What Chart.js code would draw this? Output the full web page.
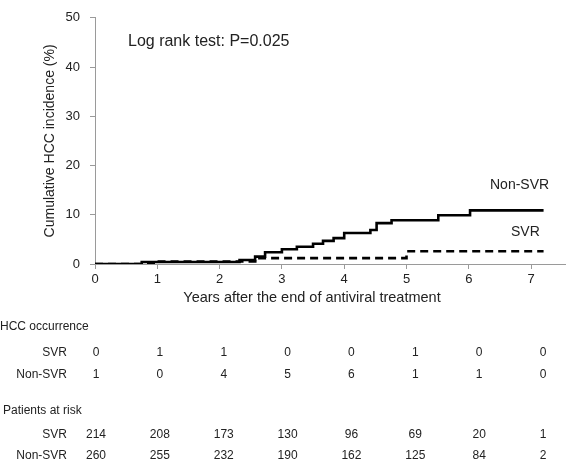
<!DOCTYPE html>
<html>
<head>
<meta charset="utf-8">
<script src="https://cdn.jsdelivr.net/npm/chart.js@4"></script>
<style>
  html, body { margin: 0; padding: 0; background: #fff; }
  #wrap { width: 566px; height: 462px; }
</style>
</head>
<body>
<div id="wrap"><canvas id="km" width="566" height="462"></canvas></div>
<script>
// step curves (years, cumulative %)
const nonSvrTimes  = [0, 0.75, 2.32, 2.57, 2.73, 3.0, 3.24, 3.5, 3.66, 3.83, 4.0, 4.42, 4.52, 4.76, 5.51, 6.02, 7.2];
const nonSvrValues = [0, 0.4, 0.8, 1.5, 2.4, 3.0, 3.5, 4.1, 4.7, 5.25, 6.3, 6.9, 8.3, 8.9, 9.9, 10.9, 10.9];
const svrTimes  = [0, 0.97, 2.6, 5.0, 7.2];
const svrValues = [0, 0.5, 1.2, 2.6, 2.6];

// tables under the chart
const tableYears = [0, 1, 2, 3, 4, 5, 6, 7];
const hccSvr     = [0, 1, 1, 0, 0, 1, 0, 0];
const hccNonSvr  = [1, 0, 4, 5, 6, 1, 1, 0];
const riskSvr    = [214, 208, 173, 130, 96, 69, 20, 1];
const riskNonSvr = [260, 255, 232, 190, 162, 125, 84, 2];

const yTicks = [0, 10, 20, 30, 40, 50];

const FONT = '"Liberation Sans", Arial, Helvetica, sans-serif';
const TXT = '#222';
const AXIS = '#9a9a9a';

const toPts = (ts, vs) => ts.map((t, i) => ({ x: t, y: vs[i] }));

// draws annotation text, x title and the tables below the axis
const extras = {
  id: 'extras',
  afterDraw(chart) {
    const ctx = chart.ctx;
    const xs = chart.scales.x;
    ctx.save();
    ctx.fillStyle = TXT;
    ctx.textBaseline = 'middle';

    ctx.font = '16px ' + FONT;
    ctx.textAlign = 'left';
    ctx.fillText('Log rank test: P=0.025', 128, 42);
    ctx.font = '14px ' + FONT;
    ctx.fillText('Non-SVR', 490, 185);
    ctx.fillText('SVR', 511, 232);

    ctx.textAlign = 'center';
    ctx.font = '14.5px ' + FONT;
    ctx.fillText('Years after the end of antiviral treatment', 312, 298);

    ctx.font = '12px ' + FONT;
    ctx.textAlign = 'left';
    ctx.fillText('HCC occurrence', 0, 327);
    ctx.fillText('Patients at risk', 3, 411);
    ctx.textAlign = 'right';
    ctx.fillText('SVR', 67, 353);
    ctx.fillText('Non-SVR', 67, 375);
    ctx.fillText('SVR', 67, 435);
    ctx.fillText('Non-SVR', 67, 456);

    ctx.textAlign = 'center';
    tableYears.forEach((yr, i) => {
      const px = xs.getPixelForValue(yr * 1.025) + 1;
      ctx.fillText(String(hccSvr[i]), px, 353);
      ctx.fillText(String(hccNonSvr[i]), px, 375);
      ctx.fillText(String(riskSvr[i]), px, 435);
      ctx.fillText(String(riskNonSvr[i]), px, 456);
    });
    ctx.restore();
  }
};

new Chart(document.getElementById('km'), {
  type: 'line',
  data: {
    datasets: [
      {
        label: 'Non-SVR',
        data: toPts(nonSvrTimes, nonSvrValues),
        stepped: true,
        borderColor: '#000',
        borderWidth: 2.6,
        pointRadius: 0,
        fill: false
      },
      {
        label: 'SVR',
        data: toPts(svrTimes, svrValues),
        stepped: true,
        borderColor: '#000',
        borderWidth: 2.6,
        borderDash: [8, 5],
        pointRadius: 0,
        fill: false
      }
    ]
  },
  options: {
    responsive: false,
    animation: false,
    layout: { padding: { top: 4, right: 0, bottom: 153, left: 0 } },
    plugins: { legend: { display: false }, tooltip: { enabled: false } },
    scales: {
      x: {
        type: 'linear',
        min: 0,
        max: 7.56,
        afterFit: (s) => { s.height = 45; },
        afterBuildTicks: (s) => { s.ticks = tableYears.map(v => ({ value: v })); },
        border: { color: AXIS, width: 1 },
        grid: { drawOnChartArea: false, color: AXIS, tickLength: 5 },
        ticks: { color: TXT, font: { family: FONT, size: 13 }, padding: 3, maxRotation: 0 }
      },
      y: {
        min: 0,
        max: 50,
        afterFit: (s) => { s.width = 95; },
        afterBuildTicks: (s) => { s.ticks = yTicks.map(v => ({ value: v })); },
        border: { color: AXIS, width: 1 },
        grid: { drawOnChartArea: false, color: AXIS, tickLength: 5 },
        ticks: { color: TXT, font: { family: FONT, size: 13 }, padding: 10 },
        title: {
          display: true,
          text: 'Cumulative HCC incidence (%)',
          color: TXT,
          font: { family: FONT, size: 14 },
          padding: { top: 42, bottom: 0 }
        }
      }
    }
  },
  plugins: [extras]
});
</script>
</body>
</html>
